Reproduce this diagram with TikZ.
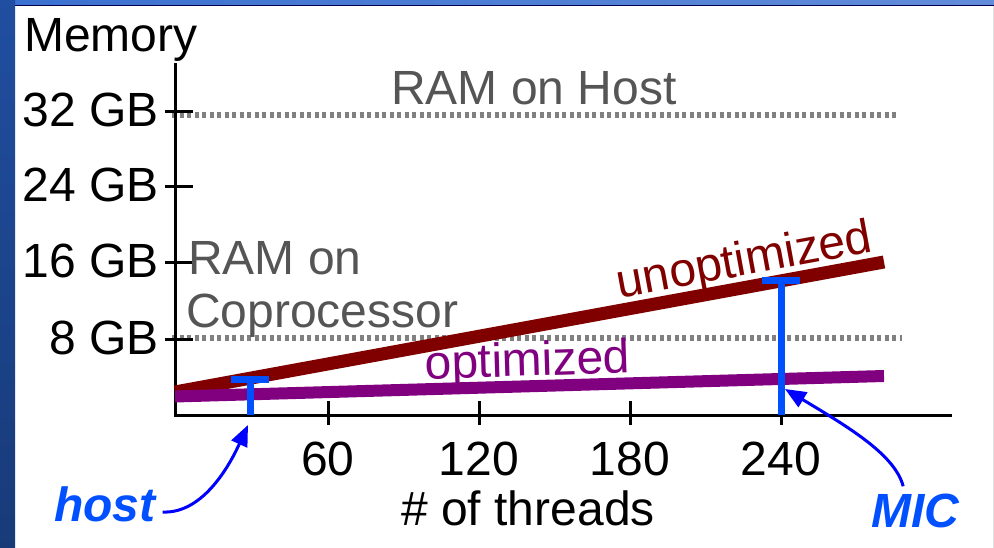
\documentclass[tikz,border=0pt]{standalone}
\usepackage{fontspec}
\setmainfont{Liberation Sans}
\usetikzlibrary{arrows.meta}

\definecolor{slideblue}{RGB}{32,78,160}
\definecolor{slidetop}{RGB}{58,112,208}
\definecolor{unopt}{RGB}{128,0,0}
\definecolor{opt}{RGB}{128,0,128}
\definecolor{beamblue}{RGB}{0,80,255}
\definecolor{ramgray}{RGB}{85,85,85}
\definecolor{dotgray}{RGB}{128,128,128}

\tikzset{
  txt/.style={font=\fontsize{48}{54}\selectfont, inner sep=0pt},
  bigital/.style={font=\fontsize{48}{54}\selectfont\bfseries\itshape, inner sep=0pt},
  axisline/.style={line width=3pt, black},
  tickline/.style={line width=3pt, black},
  limitline/.style={line width=6pt, dotgray, dash pattern=on 4pt off 3.5pt},
  beam/.style={line width=7pt, beamblue},
  callout/.style={line width=3pt, blue, -{Triangle[length=21pt,width=17pt]}},
}

\begin{document}
\begin{tikzpicture}[x=1pt,y=-1pt]
  % slide background and frame
  \fill[white] (0,0) rectangle (994,548);
  \useasboundingbox (0,0) rectangle (994,548);
  \shade[left color=slidetop, right color=slidetop!80!white] (0,0) rectangle (994,5);
  \fill[black!70!blue] (15,5) rectangle (994,6.5);
  \shade[top color=slideblue, bottom color=slideblue!75!black] (0,0) rectangle (15,548);
  \fill[black!12] (992.5,6.5) rectangle (994,548);

  % memory limits
  \draw[limitline] (172,115) -- (898,115);
  \draw[limitline] (172,338) -- (902,338);

  % axes
  \draw[axisline] (175,63) -- (175,415) -- (952,415);

  % y ticks and labels
  \foreach \yy/\lab/\nm in {112/32 GB/ya, 187/24 GB/yb, 263/16 GB/yc, 339/8 GB/yd}{
    \draw[tickline] (165,\yy) -- (193,\yy);
    \node[txt, anchor=base east] (\nm) at (159,\yy+15) {\lab};
  }

  % x ticks and labels
  \foreach \xx/\lab/\nm in {328/60/xa, 479/120/xb, 630/180/xc, 781/240/xd}{
    \draw[tickline] (\xx,401) -- (\xx,425);
    \node[txt, anchor=base] (\nm) at (\xx,475) {\lab};
  }

  % axis titles
  \node[txt, anchor=base west] (memory) at (24,52) {Memory};
  \node[txt, anchor=base] (threads) at (528,525) {\# of threads};

  % limit labels
  \node[txt, text=ramgray, anchor=base west] (ramhost) at (391,105) {RAM on Host};
  \node[txt, text=ramgray, anchor=base west] (ramco1) at (188,275) {RAM on};
  \node[txt, text=ramgray, anchor=base west] (ramco2) at (186,327) {Coprocessor};

  % memory use curves
  \draw[line width=13pt, unopt] (175,392) -- (884,262);
  \draw[line width=12pt, opt] (175,396.5) -- (884,376);
  \node[txt, text=unopt, anchor=base, rotate=10.4] (unoptlbl) at (747,275) {unoptimized};
  \node[txt, text=opt, anchor=base, rotate=1.8] (optlbl) at (528,376) {optimized};

  % measured points
  \coordinate (hosttip) at (248,425);
  \coordinate (mictip) at (785,389);
  \draw[beam] (250,415) -- (250,379);
  \draw[beam] (231,379) -- (269,379);
  \draw[beam] (781,415) -- (781,281);
  \draw[beam] (762,281) -- (800,281);

  % callouts
  \node[bigital, text=beamblue, anchor=base west] (host) at (54,521) {host};
  \node[bigital, text=beamblue, anchor=base west] (mic) at (871,527) {MIC};
  \draw[callout] ([xshift=7pt,yshift=9pt]host.base east) .. controls (205,514) and (232,460) .. (hosttip);
  \draw[callout] ([xshift=-12pt,yshift=7pt]mic.north) .. controls (895,455) and (850,428) .. (mictip);
\end{tikzpicture}
\end{document}
